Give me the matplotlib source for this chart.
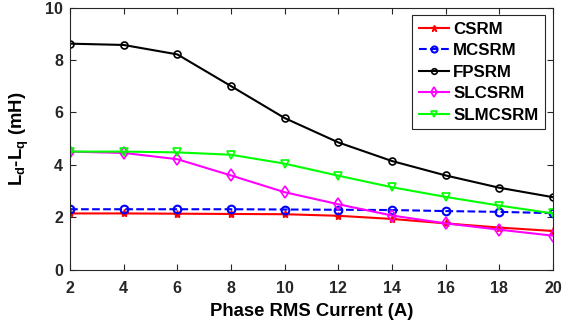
import matplotlib
matplotlib.use("Agg")
import matplotlib.pyplot as plt

current = [2, 4, 6, 8, 10, 12, 14, 16, 18, 20]
csrm = [2.14, 2.14, 2.13, 2.12, 2.11, 2.05, 1.93, 1.76, 1.60, 1.47]
mcsrm = [2.30, 2.30, 2.30, 2.30, 2.29, 2.28, 2.27, 2.23, 2.20, 2.15]
fpsrm = [8.62, 8.57, 8.21, 7.00, 5.78, 4.85, 4.14, 3.59, 3.12, 2.76]
slcsrm = [4.50, 4.45, 4.21, 3.59, 2.95, 2.49, 2.06, 1.76, 1.52, 1.29]
slmcsrm = [4.50, 4.50, 4.47, 4.38, 4.04, 3.58, 3.14, 2.77, 2.44, 2.14]
xticks = [2, 4, 6, 8, 10, 12, 14, 16, 18, 20]
yticks = [0, 2, 4, 6, 8, 10]

plt.rcParams['font.family'] = ['Liberation Sans', 'DejaVu Sans']
plt.rcParams['font.weight'] = 'bold'
plt.rcParams['mathtext.fontset'] = 'custom'
plt.rcParams['mathtext.bf'] = 'Liberation Sans:bold'
plt.rcParams['mathtext.rm'] = 'Liberation Sans:bold'

fig = plt.figure(figsize=(5.64, 3.27), dpi=100)
ax = fig.add_axes([70/564, 57.5/327, 483/564, 262/327])

lw = 1.5
ax.plot(current, csrm, color='red', marker='*', ms=6, lw=lw, label='CSRM')
ax.plot(current, mcsrm, color='blue', ls='--', marker='o', mfc='none', mew=1.5, ms=5.5, lw=lw, label='MCSRM')
ax.plot(current, fpsrm, color='black', marker='o', mfc='none', mew=1.2, ms=5, lw=lw, label='FPSRM')
ax.plot(current, slcsrm, color='magenta', marker='d', mfc='none', mew=1.2, ms=6, lw=lw, label='SLCSRM')
ax.plot(current, slmcsrm, color='#00ff00', marker='v', mfc='none', mew=1.2, ms=6, lw=lw, label='SLMCSRM')

ax.set_xlim(2, 20)
ax.set_ylim(0, 10)
ax.set_xticks(xticks)
ax.set_yticks(yticks)
ax.tick_params(direction='in', top=True, right=True, labelsize=11.5, length=4,
               color='#262626', width=0.8)
ax.tick_params(axis='x', pad=8)
ax.tick_params(axis='y', pad=5)
for lab in ax.get_xticklabels() + ax.get_yticklabels():
    lab.set_fontweight('bold')
    lab.set_color('#262626')
for s in ax.spines.values():
    s.set_color('#262626')
    s.set_linewidth(0.8)

ax.set_xlabel('Phase RMS Current (A)', fontsize=13.3, fontweight='bold', labelpad=5)
ax.set_ylabel('L$_\\mathrm{d}$-L$_\\mathrm{q}$ (mH)', fontsize=13.3, fontweight='bold', labelpad=10)

leg = ax.legend(loc='upper right', fontsize=12.2, frameon=True, fancybox=False,
                edgecolor='#262626', framealpha=1, handlelength=1.8,
                borderaxespad=0.45, labelspacing=0.38, handletextpad=0.25,
                borderpad=0.4, markerscale=0.8)
leg.get_frame().set_linewidth(0.8)
for t in leg.get_texts():
    t.set_fontweight('bold')

fig.savefig('out.png', dpi=100)
